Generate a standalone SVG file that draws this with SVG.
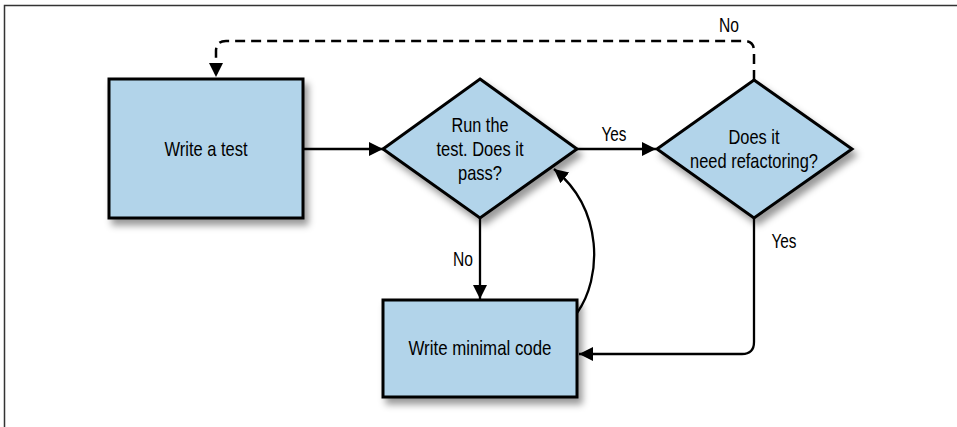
<svg xmlns="http://www.w3.org/2000/svg" width="957" height="427" viewBox="0 0 957 427">
<style>
.node{fill:#b2d4ea;stroke:#000;stroke-width:3;filter:url(#sh)}
.t{font-family:"Liberation Sans",Arial,sans-serif;font-size:21px;fill:#000;text-anchor:middle}
.c{fill:none;stroke:#000;stroke-width:2.3}
.d{stroke-dasharray:10 6;stroke-width:2.5}
</style>
<defs>
<filter id="sh" x="-10%" y="-10%" width="130%" height="140%">
<feDropShadow dx="4" dy="6" stdDeviation="3.5" flood-color="#000" flood-opacity="0.4"/>
</filter>
<marker id="ah" markerUnits="userSpaceOnUse" markerWidth="16" markerHeight="16" viewBox="0 0 16 16" refX="14" refY="8" orient="auto">
<path d="M0,1 L14,8 L0,15 Z" fill="#000"/>
</marker>
</defs>
<path d="M4.5,427 V5.5 H957" fill="none" stroke="#333" stroke-width="1.5"/>
<g id="connectors">
<path class="c" d="M303,149 H383" marker-end="url(#ah)"/>
<path class="c" d="M577,149 H656" marker-end="url(#ah)"/>
<path class="c" d="M480,218 V299" marker-end="url(#ah)"/>
<path class="c" d="M577,313 C602,278 604,210 554,169" marker-end="url(#ah)"/>
<path class="c" d="M754,218 V342 Q754,354 742,354 H579" marker-end="url(#ah)"/>
<path class="c d" d="M754,80 V51 Q754,41 744,41 H226 Q216,41 216,51 V77" marker-end="url(#ah)"/>
<text class="t" x="614" y="141" textLength="25" lengthAdjust="spacingAndGlyphs">Yes</text>
<text class="t" x="463" y="266" textLength="20" lengthAdjust="spacingAndGlyphs">No</text>
<text class="t" x="784" y="248" textLength="25" lengthAdjust="spacingAndGlyphs">Yes</text>
<text class="t" x="729" y="32" textLength="20" lengthAdjust="spacingAndGlyphs">No</text>
</g>
<g id="write-test">
<rect class="node" x="109" y="79" width="194" height="139"/>
<text class="t" x="206" y="156" textLength="83" lengthAdjust="spacingAndGlyphs">Write a test</text>
</g>
<g id="run-test">
<path class="node" d="M480,79 L577,149 L480,218 L383,149 Z"/>
<text class="t" x="480" y="132" textLength="57" lengthAdjust="spacingAndGlyphs">Run the</text>
<text class="t" x="480" y="156" textLength="87" lengthAdjust="spacingAndGlyphs">test. Does it</text>
<text class="t" x="480" y="180" textLength="44" lengthAdjust="spacingAndGlyphs">pass?</text>
</g>
<g id="refactor">
<path class="node" d="M754,80 L852,149 L754,218 L657,149 Z"/>
<text class="t" x="754" y="144" textLength="51" lengthAdjust="spacingAndGlyphs">Does it</text>
<text class="t" x="754" y="168" textLength="128" lengthAdjust="spacingAndGlyphs">need refactoring?</text>
</g>
<g id="minimal-code">
<rect class="node" x="383" y="300" width="194" height="97"/>
<text class="t" x="480" y="355" textLength="143" lengthAdjust="spacingAndGlyphs">Write minimal code</text>
</g>
</svg>
